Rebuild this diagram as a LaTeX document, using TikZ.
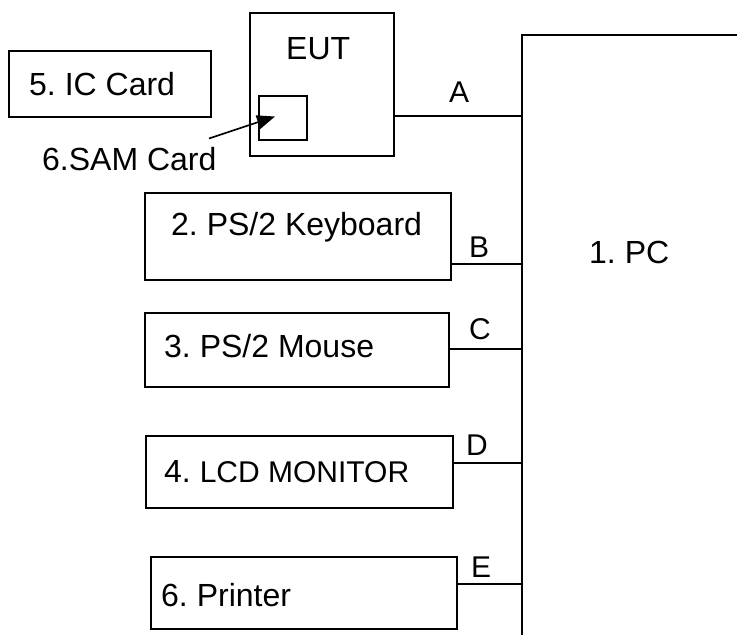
\documentclass[tikz,border=0pt]{standalone}
\usepackage{fontspec}
\setmainfont{Liberation Sans}
\usetikzlibrary{arrows.meta}
\frenchspacing
\begin{document}
\begin{tikzpicture}[x=1pt,y=-1pt,
  box/.style={draw,line width=1.7pt,rectangle,inner sep=0pt,anchor=north west},
  txt/.style={anchor=base west,inner sep=0pt,font=\fontsize{32}{36}\selectfont},
  lbl/.style={anchor=base west,inner sep=0pt,font=\fontsize{30}{34}\selectfont},
  wire/.style={line width=1.7pt}]
\useasboundingbox (0,0) rectangle (737,635);
\clip (0,0) rectangle (737,635);
% PC (extends beyond the picture)
\node[box,minimum width=240pt,minimum height=640pt] (pc) at (521,34) {};
\node[txt] (pct) at (589,263) {1. PC};
% boxes
\node[box,minimum width=202pt,minimum height=66pt] (ic) at (8,50) {};
\node[txt] (ict) at (29,95.5) {5. IC Card};
\node[box,minimum width=144pt,minimum height=143pt] (eut) at (249,12) {};
\node[txt] (eutt) at (286,59) {EUT};
\node[box,minimum width=48pt,minimum height=44pt] (sam) at (258,95) {};
\node[txt] (samt) at (42,170) {6.SAM Card};
\node[box,minimum width=306pt,minimum height=87pt] (kb) at (144,192) {};
\node[txt] (kbt) at (171,235) {2. PS/2 Keyboard};
\node[box,minimum width=304pt,minimum height=74pt] (ms) at (144,312) {};
\node[txt] (mst) at (164,357) {3. PS/2 Mouse};
\node[box,minimum width=307pt,minimum height=72pt] (lcd) at (145,435) {};
\node[txt] (lcdt) at (164,482) {4. {\fontsize{30}{34}\selectfont LCD MONITOR}};
\node[box,minimum width=306pt,minimum height=72pt] (pr) at (150,556) {};
\node[txt] (prt) at (161,606) {6. Printer};
% connection points on PC
\coordinate (pA) at (521,116);
\coordinate (pB) at (521,264);
\coordinate (pC) at (521,349);
\coordinate (pD) at (521,463);
\coordinate (pE) at (521,584);
\draw[wire] (eut.east |- pA) -- (pA);
\draw[wire] (kb.east |- pB) -- (pB);
\draw[wire] (ms.east |- pC) -- (pC);
\draw[wire] (lcd.east |- pD) -- (pD);
\draw[wire] (pr.east |- pE) -- (pE);
\node[lbl] (la) at (449,102) {A};
\node[lbl] (lb) at (469,257) {B};
\node[lbl] (lc) at (469,339) {C};
\node[lbl] (ld) at (466,455) {D};
\node[lbl] (le) at (471,577) {E};
% arrow to SAM card
\coordinate (as) at (209,138.5);
\coordinate (ae) at (275,116.5);
\draw[line width=1.6pt,-{Triangle[length=18pt,width=14pt]}] (as) -- (ae);
\end{tikzpicture}
\end{document}
